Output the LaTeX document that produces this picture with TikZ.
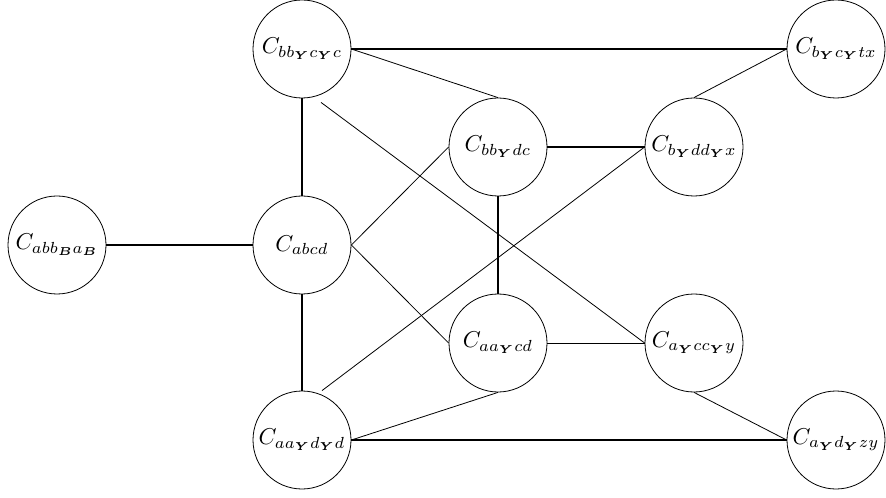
\documentclass[tikz,border=0pt]{standalone}
\usepackage{graphicx}
\usepackage{amsmath}
\usepackage{bm}
\usetikzlibrary{calc}
\newcommand{\statelabel}[1]{\scalebox{2.3}{$#1$}}
\begin{document}
\begin{tikzpicture}[x=1bp,y=-1bp,
  state/.style={circle,draw,line width=0.8bp,minimum size=98bp,inner sep=0pt},
  thin edge/.style={line width=0.8bp},
  thick edge/.style={line width=1.8bp}]
\useasboundingbox (0,0) rectangle (886,498);
% states
\node[state] (bbycyc) at (302,49) {\statelabel{C_{bb_{\bm{Y}}c_{\bm{Y}}c}}};
\node[state] (bycytx) at (836,49) {\statelabel{C_{b_{\bm{Y}}c_{\bm{Y}}tx}}};
\node[state] (bbydc)  at (498,147) {\statelabel{C_{bb_{\bm{Y}}dc}}};
\node[state] (byddyx) at (694,147) {\statelabel{C_{b_{\bm{Y}}dd_{\bm{Y}}x}}};
\node[state] (abbbab) at (57,245) {\statelabel{C_{abb_{\bm{B}}a_{\bm{B}}}}};
\node[state] (abcd)   at (302,245) {\statelabel{C_{abcd}}};
\node[state] (aaycd)  at (498,343) {\statelabel{C_{aa_{\bm{Y}}cd}}};
\node[state] (ayccyy) at (694,343) {\statelabel{C_{a_{\bm{Y}}cc_{\bm{Y}}y}}};
\node[state] (aaydyd) at (302,440) {\statelabel{C_{aa_{\bm{Y}}d_{\bm{Y}}d}}};
\node[state] (aydyzy) at (836,440) {\statelabel{C_{a_{\bm{Y}}d_{\bm{Y}}zy}}};
% free ends just outside two circles
\coordinate (p1) at ($(bbycyc.south)+(19,4)$);
\coordinate (p2) at ($(aaydyd.north)+(20,0)$);
% thick edges
\draw[thick edge] (bbycyc.east) -- (bycytx.west);
\draw[thick edge] (bbycyc.south) -- (abcd.north);
\draw[thick edge] (abbbab.east) -- (abcd.west);
\draw[thick edge] (abcd.south) -- (aaydyd.north);
\draw[thick edge] (bbydc.east) -- (byddyx.west);
\draw[thick edge] (bbydc.south) -- (aaycd.north);
\draw[thick edge] (aaydyd.east) -- (aydyzy.west);
% thin edges
\draw[thin edge] (bbycyc.east) -- (bbydc.north);
\draw[thin edge] (bycytx.west) -- (byddyx.north);
\draw[thin edge] (p1) -- (ayccyy.west);
\draw[thin edge] (abcd.east) -- (bbydc.west);
\draw[thin edge] (abcd.east) -- (aaycd.west);
\draw[thin edge] (p2) -- (byddyx.west);
\draw[thin edge] (aaycd.east) -- (ayccyy.west);
\draw[thin edge] (aaydyd.east) -- (aaycd.south);
\draw[thin edge] (ayccyy.south) -- (aydyzy.west);
\end{tikzpicture}
\end{document}
